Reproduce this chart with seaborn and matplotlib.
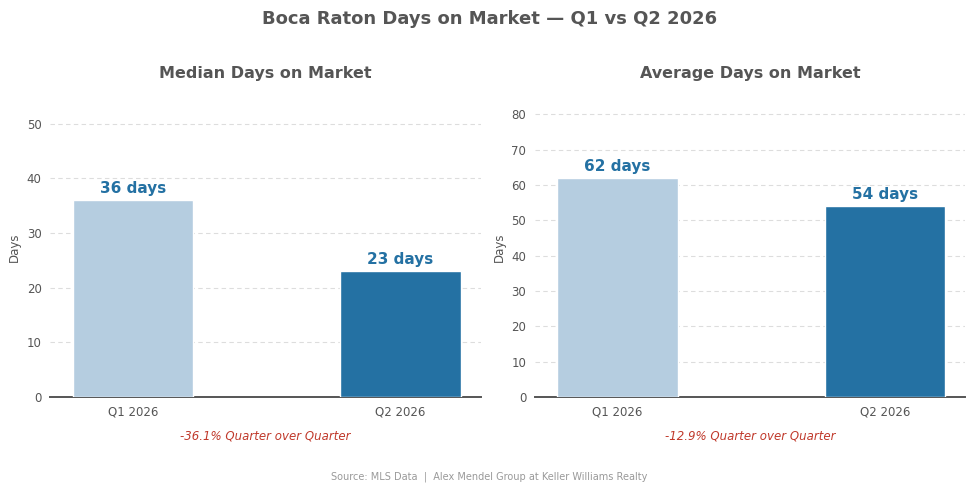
import matplotlib
matplotlib.use("Agg")
import matplotlib.pyplot as plt
import pandas as pd
import seaborn as sns

quarters = ["Q1 2026", "Q2 2026"]
median_days = [36, 23]
average_days = [62, 54]
qoq_labels = ["-36.1% Quarter over Quarter", "-12.9% Quarter over Quarter"]
panel_titles = ["Median Days on Market", "Average Days on Market"]
y_tops = [55, 85]
y_ticks = [[0, 10, 20, 30, 40, 50], [0, 10, 20, 30, 40, 50, 60, 70, 80]]

colors = ["#b5cde0", "#2471a3"]
grey = "#555555"

sns.set_style("white")
plt.rcParams["font.family"] = ["DejaVu Sans"]

fig, axes = plt.subplots(1, 2, figsize=(9.79, 4.95), dpi=100)
fig.subplots_adjust(left=0.051, right=0.986, top=0.805, bottom=0.198, wspace=0.125)

for ax, vals, title, top, ticks, note in zip(axes, [median_days, average_days], panel_titles,
                                              y_tops, y_ticks, qoq_labels):
    df = pd.DataFrame({"quarter": quarters, "days": vals})
    sns.barplot(data=df, x="quarter", y="days", hue="quarter", palette=colors,
                width=0.45, legend=False, ax=ax, saturation=1, zorder=3)
    for i, v in enumerate(vals):
        ax.text(i, v + top * 0.014, f"{v} days", ha="center", va="bottom",
                fontsize=11, fontweight="bold", color="#2471a3", zorder=4)
    ax.set_ylim(0, top)
    ax.set_xlim(-0.31, 1.3)
    ax.set_yticks(ticks)
    ax.set_title(title, fontsize=11.5, fontweight="bold", color=grey, pad=13)
    ax.set_xlabel("")
    ax.set_ylabel("Days", fontsize=8.5, color=grey)
    ax.yaxis.grid(True, linestyle=(0, (4, 3)), color="#dddddd", linewidth=0.8, zorder=0)
    ax.tick_params(axis="both", labelsize=8.5, colors=grey, length=4, width=0.8)
    ax.tick_params(axis="x", pad=2)
    ax.tick_params(axis="y", pad=2)
    for s in ["top", "right", "left"]:
        ax.spines[s].set_visible(False)
    ax.spines["bottom"].set_color(grey)
    ax.spines["bottom"].set_linewidth(1.4)
    ax.text(0.5, -0.108, note, transform=ax.transAxes, ha="center", va="top",
            fontsize=8.5, style="italic", color="#c0392b")

fig.suptitle("Boca Raton Days on Market \u2014 Q1 vs Q2 2026", fontsize=13,
             fontweight="bold", color=grey, y=0.98)
fig.text(0.5, 0.036, "Source: MLS Data  |  Alex Mendel Group at Keller Williams Realty",
         ha="center", va="center", fontsize=7, color="#999999")

fig.savefig("out.png", dpi=100)
